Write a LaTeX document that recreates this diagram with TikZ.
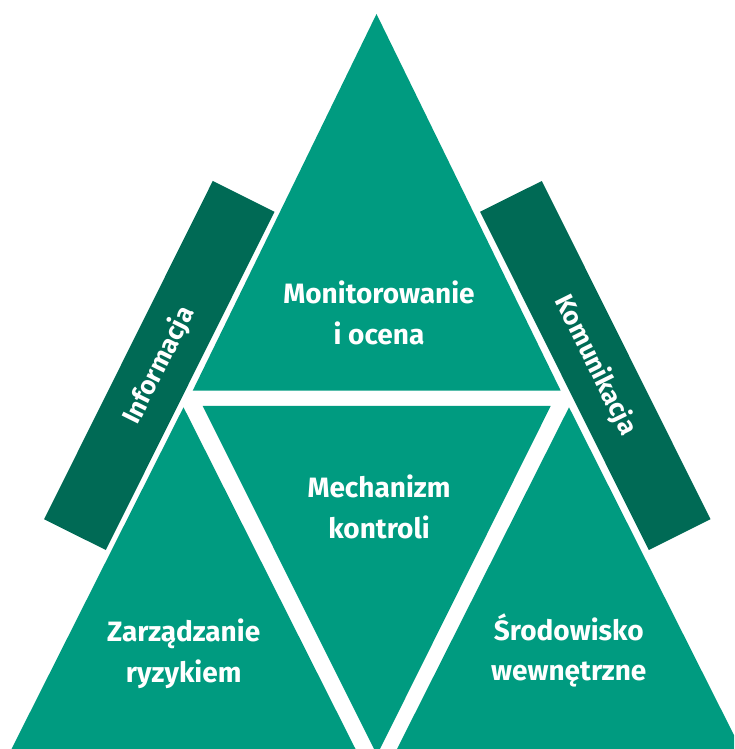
\documentclass[tikz,border=0pt]{standalone}
\usepackage{fontspec}
\setmainfont{Fira Sans}
\usetikzlibrary{positioning}
\definecolor{cgreen}{HTML}{009B80}
\definecolor{cdark}{HTML}{006A55}
\tikzset{
  every picture/.style={x=1pt, y=1pt, font=\bfseries\fontsize{28}{40.7}\selectfont},
  tri/.style={fill=cgreen},
  bar/.style={fill=cdark, text=white, minimum width=378pt, minimum height=69pt, inner sep=0pt,
              font=\bfseries\fontsize{26}{30}\selectfont},
  tritext/.style={text=white, align=center, inner sep=0pt},
}
\begin{document}
\begin{tikzpicture}
  \useasboundingbox (0,0) rectangle (734,749);
  \clip (0,0) rectangle (734,749);
  % triangles
  \fill[tri] (376.5,735) -- (560.7,358.3) -- (192.7,358.3) -- cycle;
  \fill[tri] (202.7,343) -- (550.7,343) -- (377,-6) -- cycle;
  \fill[tri] (183.5,341.7) -- (355.5,0) -- (11.5,0) -- cycle;
  \fill[tri] (569,341.7) -- (741,0) -- (397,0) -- cycle;
  % side bars
  \node[bar, rotate=63.5] (info) at (159.3,383.5) {Informacja};
  \node[bar, rotate=-63.5] (komm) at (595.3,383.5) {Komunikacja};
  % texts
  \node[tritext] (mon) at (379,435.8) {Monitorowanie\\i ocena};
  \node[tritext] (mech) at (379,242) {Mechanizm\\kontroli};
  \node[tritext] (ryz) at (183.7,95.4) {Zarządzanie\\ryzykiem};
  \node[tritext] (srod) at (568.8,98.6) {Środowisko\\wewnętrzne};
\end{tikzpicture}
\end{document}
